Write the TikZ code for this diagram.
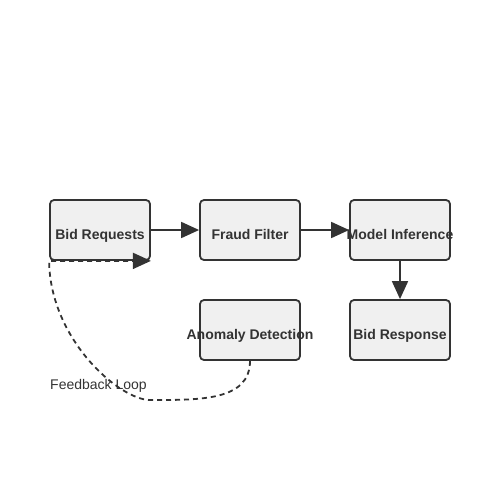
\documentclass[tikz,border=0pt]{standalone}
\usepackage{fontspec}
\setmainfont{Liberation Sans}
\usetikzlibrary{arrows.meta,positioning}
\definecolor{inkgray}{HTML}{333333}
\definecolor{boxfill}{HTML}{F0F0F0}
% label that neither widens nor heightens its box
\newcommand{\stagetext}[1]{\raisebox{-9pt}[0pt][0pt]{\makebox[0pt][c]{#1}}}
\tikzset{stagebox/.style={draw=inkgray,fill=boxfill,line width=1.8pt,rounded corners=4pt,
        minimum width=100pt,minimum height=60pt,inner sep=0,text=inkgray,
        font=\fontsize{14}{16}\selectfont\bfseries},
    flow/.style={draw=inkgray,line width=1.8pt,-{Triangle[length=18pt,width=16pt]}},
    feedback/.style={flow,dash pattern=on 5pt off 4pt}
}
\begin{document}
\begin{tikzpicture}[x=1pt,y=-1pt]
\useasboundingbox (0,0) rectangle (500,500);

% pipeline stages
\node (reqs) at (100,230) [stagebox] {\stagetext{Bid Requests}};
\node (fraud) at (250,230) [stagebox] {\stagetext{Fraud Filter}};
\node (infer) at (400,230) [stagebox] {\stagetext{Model Inference}};
\node (anomaly) at (250,330) [stagebox] {\stagetext{Anomaly Detection}};
\node (resp) at (400,330) [stagebox] {\stagetext{Bid Response}};

\draw [flow] (reqs) -- (fraud);
\draw [flow] (fraud) -- (infer);
\draw [flow] (infer) -- (resp);

% feedback loop
\coordinate (loopbot) at (150,400);
\node (fbloop) at (50,386) [anchor=west,inner sep=0,text=inkgray,font=\fontsize{14}{16}\selectfont] {Feedback Loop};
\draw [feedback] (anomaly.south) .. controls +(0,40) and (200,400) .. (loopbot)
    .. controls (120,400) and (50,340) .. (reqs.south west) -- (reqs.south east);

\end{tikzpicture}
\end{document}
